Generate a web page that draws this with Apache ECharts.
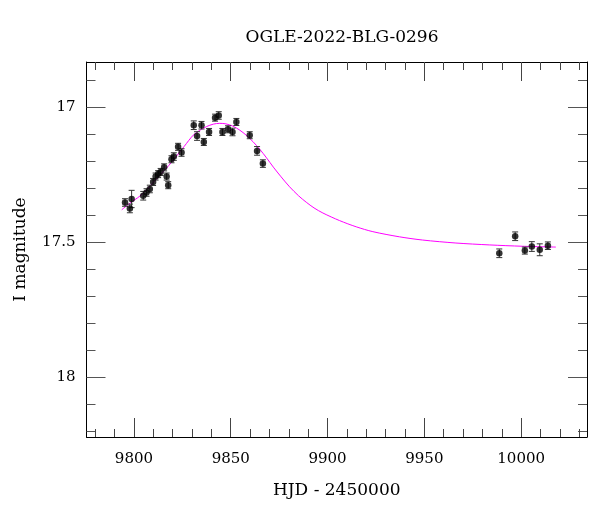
<!DOCTYPE html>
<html>
<head>
<meta charset="utf-8">
<script src="https://cdn.jsdelivr.net/npm/echarts@6/dist/echarts.min.js"></script>
<style>
html,body{margin:0;padding:0;background:#fff;}
#chart{width:600px;height:512px;}
</style>
</head>
<body>
<div id="chart"></div>
<script>
// Observed photometry
var hjd  = [9795.4, 9797.9, 9798.8, 9804.8, 9806.5, 9808.2, 9809.9, 9811.2, 9812.5, 9813.8,
            9815.6, 9816.9, 9817.7, 9819.4, 9820.6, 9822.8, 9824.6, 9830.9, 9832.6, 9834.9,
            9836.1, 9838.8, 9841.9, 9843.8, 9845.7, 9848.6, 9850.9, 9852.9, 9859.8, 9863.6,
            9866.6, 9988.7, 9996.9, 10001.9, 10005.5, 10009.6, 10013.8];
var imag = [17.353, 17.375, 17.340, 17.328, 17.316, 17.303, 17.277, 17.257, 17.248, 17.240,
            17.223, 17.257, 17.289, 17.193, 17.183, 17.147, 17.168, 17.067, 17.107, 17.067,
            17.129, 17.092, 17.039, 17.031, 17.092, 17.082, 17.092, 17.055, 17.104, 17.162,
            17.209, 17.541, 17.478, 17.531, 17.516, 17.528, 17.513];
var ierr = [0.014, 0.016, 0.032, 0.016, 0.014, 0.014, 0.013, 0.013, 0.013, 0.013,
            0.013, 0.013, 0.013, 0.013, 0.014, 0.013, 0.014, 0.016, 0.016, 0.014,
            0.013, 0.013, 0.013, 0.014, 0.013, 0.013, 0.014, 0.013, 0.013, 0.016,
            0.014, 0.016, 0.016, 0.013, 0.018, 0.022, 0.014];

// Model light curve
var modelHjd = [9793.7, 9798.0, 9803.1, 9808.0, 9813.4, 9818.0, 9822.0, 9826.0, 9830.6, 9834.0,
                9837.5, 9841.0, 9844.3, 9847.5, 9851.0, 9854.6, 9858.0, 9861.5, 9865.0, 9868.5,
                9872.0, 9876.0, 9880.4, 9885.0, 9889.0, 9893.0, 9897.6, 9906.2, 9914.8, 9923.4,
                9937.1, 9949.1, 9966.3, 9983.5, 10000.7, 10017.9];
var modelMag = [17.380, 17.355, 17.329, 17.294, 17.252, 17.216, 17.181, 17.145, 17.104, 17.086,
                17.072, 17.063, 17.060, 17.062, 17.070, 17.085, 17.104, 17.128, 17.156, 17.188,
                17.222, 17.258, 17.295, 17.328, 17.352, 17.373, 17.392, 17.420, 17.443, 17.461,
                17.480, 17.492, 17.503, 17.510, 17.515, 17.518];

// Ticks
var xMajor = [9800, 9850, 9900, 9950, 10000];
var xMinor = [9780, 9790, 9810, 9820, 9830, 9840, 9860, 9870, 9880, 9890, 9910, 9920, 9930, 9940,
              9960, 9970, 9980, 9990, 10010, 10020, 10030];
var yMajor = [17, 17.5, 18];
var yMinor = [16.9, 17.1, 17.2, 17.3, 17.4, 17.6, 17.7, 17.8, 17.9, 18.1, 18.2];

var X_MIN = 9775.5, X_MAX = 10034, Y_MIN = 16.833, Y_MAX = 18.221;
var FONT = '"DejaVu Serif", serif';

var pts = hjd.map(function(x, i){ return [x, imag[i], ierr[i]]; });
var model = modelHjd.map(function(x, i){ return [x, modelMag[i]]; });

function plain(v){ return String(v); }

function xAx(pos, vals, len, main){
  return {
    type: 'value', position: pos, min: X_MIN, max: X_MAX, gridIndex: 0,
    axisLine: {show: main, onZero: false, lineStyle: {color: '#000', width: 1}},
    axisTick: {show: true, inside: true, length: len, customValues: vals, lineStyle: {color: '#444', width: 1}},
    axisLabel: (main && pos === 'bottom') ? {show: true, customValues: xMajor, margin: 15, formatter: plain,
        color: '#000', fontFamily: FONT, fontSize: 15} : {show: false},
    splitLine: {show: false},
    name: (main && pos === 'bottom') ? 'HJD - 2450000' : '',
    nameLocation: 'middle', nameGap: 45,
    nameTextStyle: {color: '#000', fontFamily: FONT, fontSize: 17}
  };
}
function yAx(pos, vals, len, main){
  return {
    type: 'value', position: pos, min: Y_MIN, max: Y_MAX, inverse: true, gridIndex: 0,
    axisLine: {show: main, onZero: false, lineStyle: {color: '#000', width: 1}},
    axisTick: {show: true, inside: true, length: len, customValues: vals, lineStyle: {color: '#555', width: 1}},
    axisLabel: (main && pos === 'left') ? {show: true, customValues: yMajor, margin: 11, formatter: plain,
        color: '#000', fontFamily: FONT, fontSize: 15} : {show: false},
    splitLine: {show: false},
    name: (main && pos === 'left') ? 'I magnitude' : '',
    nameLocation: 'middle', nameGap: 57, nameRotate: 90,
    nameTextStyle: {color: '#000', fontFamily: FONT, fontSize: 17}
  };
}

var chart = echarts.init(document.getElementById('chart'), null, {renderer: 'canvas'});
chart.setOption({
  animation: false,
  backgroundColor: '#fff',
  title: {
    text: 'OGLE-2022-BLG-0296', left: 337, top: 24, textAlign: 'center',
    textStyle: {color: '#000', fontFamily: FONT, fontSize: 17, fontWeight: 'normal'}
  },
  grid: {left: 86.5, right: 13, top: 62, bottom: 75},
  xAxis: [xAx('bottom', xMajor, 19, true), xAx('bottom', xMinor, 8, false),
          xAx('top', xMajor, 19, true), xAx('top', xMinor, 8, false)],
  yAxis: [yAx('left', yMajor, 19, true), yAx('left', yMinor, 9, false),
          yAx('right', yMajor, 19, true), yAx('right', yMinor, 9, false)],
  series: [
    {
      type: 'line', data: model, xAxisIndex: 0, yAxisIndex: 0,
      showSymbol: false, smooth: 0.3,
      lineStyle: {color: '#ff00ff', width: 1}, z: 2
    },
    {
      type: 'custom', data: pts, xAxisIndex: 0, yAxisIndex: 0, z: 3,
      renderItem: function(params, api){
        var x = api.value(0), y = api.value(1), e = api.value(2);
        var a = api.coord([x, y - e]), b = api.coord([x, y + e]);
        var c = 3;
        var st = {stroke: '#333', lineWidth: 1};
        return {type: 'group', children: [
          {type: 'line', shape: {x1: a[0], y1: a[1], x2: b[0], y2: b[1]}, style: st},
          {type: 'line', shape: {x1: a[0]-c, y1: a[1], x2: a[0]+c, y2: a[1]}, style: st},
          {type: 'line', shape: {x1: b[0]-c, y1: b[1], x2: b[0]+c, y2: b[1]}, style: st}
        ]};
      }
    },
    {
      type: 'scatter', data: pts, xAxisIndex: 0, yAxisIndex: 0, z: 4,
      symbol: 'circle', symbolSize: 6.5, itemStyle: {color: '#000'}
    }
  ]
});
</script>
</body>
</html>
